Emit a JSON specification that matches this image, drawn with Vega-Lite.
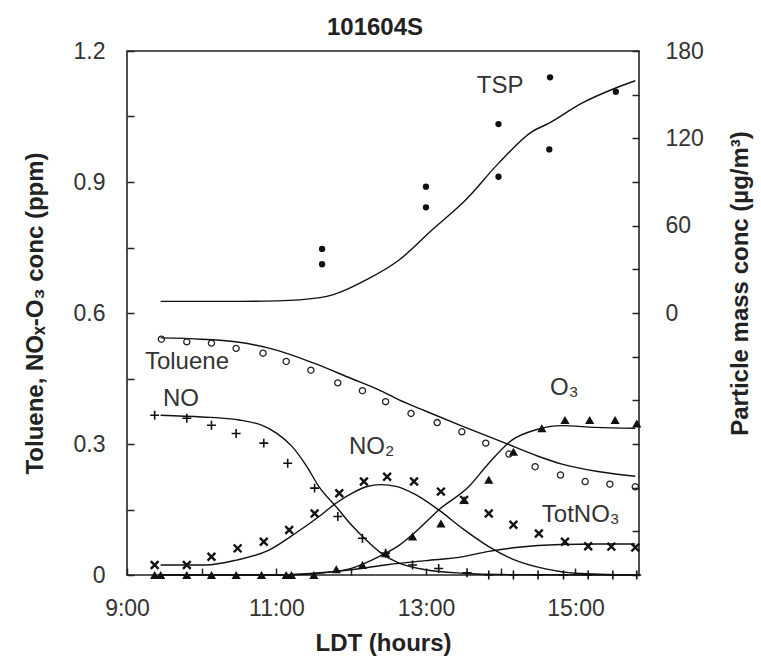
{
  "$schema": "https://vega.github.io/schema/vega-lite/v6.json",
  "width": 512,
  "height": 524,
  "autosize": {"type": "none"},
  "padding": {"left": 127, "top": 51, "right": 122, "bottom": 86},
  "background": "white",
  "title": {"text": "101604S", "fontSize": 24, "fontWeight": "bold", "font": "Liberation Sans", "color": "#222", "baseline": "bottom", "offset": 16, "frame": "group", "anchor": "middle", "dx": -8, "dy": 40},
  "config": {
    "font": "Liberation Sans, DejaVu Sans",
    "view": {"stroke": "#222", "strokeWidth": 1.6},
    "axis": {"domain": false, "grid": false, "tickColor": "#222", "tickWidth": 1.5, "tickSize": -7, "labelFont": "Liberation Sans", "labelFontSize": 23, "labelColor": "#333", "titleFont": "Liberation Sans, DejaVu Sans", "titleFontSize": 24, "titleFontWeight": "bold", "titleColor": "#222", "labelOverlap": false, "labelFlush": false}
  },
  "datasets": {
    "model": [
      {"s":"Toluene","h":9.45,"v":0.543},{"s":"Toluene","h":10.0,"v":0.540},{"s":"Toluene","h":10.5,"v":0.533},{"s":"Toluene","h":11.0,"v":0.515},{"s":"Toluene","h":11.5,"v":0.485},{"s":"Toluene","h":12.0,"v":0.450},{"s":"Toluene","h":12.37,"v":0.424},{"s":"Toluene","h":12.64,"v":0.401},{"s":"Toluene","h":13.0,"v":0.375},{"s":"Toluene","h":13.5,"v":0.340},{"s":"Toluene","h":14.06,"v":0.302},{"s":"Toluene","h":14.5,"v":0.272},{"s":"Toluene","h":14.82,"v":0.254},{"s":"Toluene","h":15.3,"v":0.237},{"s":"Toluene","h":15.8,"v":0.226},
      {"s":"NO","h":9.45,"v":0.366},{"s":"NO","h":10.0,"v":0.362},{"s":"NO","h":10.5,"v":0.355},{"s":"NO","h":10.8,"v":0.343},{"s":"NO","h":11.0,"v":0.325},{"s":"NO","h":11.21,"v":0.294},{"s":"NO","h":11.4,"v":0.250},{"s":"NO","h":11.57,"v":0.202},{"s":"NO","h":11.8,"v":0.156},{"s":"NO","h":12.0,"v":0.115},{"s":"NO","h":12.2,"v":0.080},{"s":"NO","h":12.4,"v":0.050},{"s":"NO","h":12.64,"v":0.027},{"s":"NO","h":13.0,"v":0.012},{"s":"NO","h":13.5,"v":0.004},{"s":"NO","h":14.0,"v":0.001},{"s":"NO","h":15.8,"v":0.0},
      {"s":"NO2","h":9.45,"v":0.023},{"s":"NO2","h":10.05,"v":0.023},{"s":"NO2","h":10.46,"v":0.034},{"s":"NO2","h":10.9,"v":0.057},{"s":"NO2","h":11.25,"v":0.095},{"s":"NO2","h":11.57,"v":0.134},{"s":"NO2","h":11.8,"v":0.165},{"s":"NO2","h":12.02,"v":0.188},{"s":"NO2","h":12.2,"v":0.202},{"s":"NO2","h":12.4,"v":0.207},{"s":"NO2","h":12.6,"v":0.203},{"s":"NO2","h":12.85,"v":0.185},{"s":"NO2","h":13.17,"v":0.149},{"s":"NO2","h":13.5,"v":0.105},{"s":"NO2","h":13.84,"v":0.065},{"s":"NO2","h":14.15,"v":0.037},{"s":"NO2","h":14.6,"v":0.014},{"s":"NO2","h":15.0,"v":0.004},{"s":"NO2","h":15.8,"v":0.0},
      {"s":"O3","h":9.45,"v":0.0},{"s":"O3","h":11.0,"v":0.0},{"s":"O3","h":11.5,"v":0.003},{"s":"O3","h":12.0,"v":0.015},{"s":"O3","h":12.37,"v":0.042},{"s":"O3","h":12.64,"v":0.068},{"s":"O3","h":12.9,"v":0.105},{"s":"O3","h":13.17,"v":0.149},{"s":"O3","h":13.57,"v":0.202},{"s":"O3","h":13.84,"v":0.256},{"s":"O3","h":14.15,"v":0.309},{"s":"O3","h":14.46,"v":0.332},{"s":"O3","h":14.82,"v":0.342},{"s":"O3","h":15.26,"v":0.338},{"s":"O3","h":15.8,"v":0.336},
      {"s":"TotNO3","h":9.45,"v":0.0},{"s":"TotNO3","h":11.0,"v":0.0},{"s":"TotNO3","h":11.5,"v":0.004},{"s":"TotNO3","h":12.0,"v":0.012},{"s":"TotNO3","h":12.5,"v":0.024},{"s":"TotNO3","h":13.0,"v":0.033},{"s":"TotNO3","h":13.5,"v":0.042},{"s":"TotNO3","h":13.8,"v":0.053},{"s":"TotNO3","h":14.2,"v":0.063},{"s":"TotNO3","h":14.8,"v":0.070},{"s":"TotNO3","h":15.3,"v":0.071},{"s":"TotNO3","h":15.8,"v":0.071}
    ],
    "obs": [
      {"s":"Toluene","h":9.46,"v":0.540},{"s":"Toluene","h":9.80,"v":0.534},{"s":"Toluene","h":10.13,"v":0.531},{"s":"Toluene","h":10.46,"v":0.519},{"s":"Toluene","h":10.82,"v":0.508},{"s":"Toluene","h":11.13,"v":0.489},{"s":"Toluene","h":11.46,"v":0.469},{"s":"Toluene","h":11.82,"v":0.440},{"s":"Toluene","h":12.15,"v":0.422},{"s":"Toluene","h":12.46,"v":0.397},{"s":"Toluene","h":12.80,"v":0.370},{"s":"Toluene","h":13.15,"v":0.349},{"s":"Toluene","h":13.48,"v":0.328},{"s":"Toluene","h":13.80,"v":0.302},{"s":"Toluene","h":14.11,"v":0.277},{"s":"Toluene","h":14.46,"v":0.248},{"s":"Toluene","h":14.80,"v":0.229},{"s":"Toluene","h":15.13,"v":0.214},{"s":"Toluene","h":15.46,"v":0.208},{"s":"Toluene","h":15.80,"v":0.202},
      {"s":"NO","h":9.37,"v":0.366},{"s":"NO","h":9.80,"v":0.359},{"s":"NO","h":10.13,"v":0.343},{"s":"NO","h":10.46,"v":0.324},{"s":"NO","h":10.83,"v":0.302},{"s":"NO","h":11.15,"v":0.256},{"s":"NO","h":11.51,"v":0.199},{"s":"NO","h":11.82,"v":0.134},{"s":"NO","h":12.15,"v":0.084},{"s":"NO","h":12.46,"v":0.050},{"s":"NO","h":12.82,"v":0.023},{"s":"NO","h":13.17,"v":0.015},{"s":"NO","h":13.55,"v":0.005},{"s":"NO","h":13.84,"v":0.0},{"s":"NO","h":14.17,"v":0.0},{"s":"NO","h":14.5,"v":0.0},{"s":"NO","h":14.84,"v":0.0},{"s":"NO","h":15.17,"v":0.0},{"s":"NO","h":15.5,"v":0.0},{"s":"NO","h":15.82,"v":0.0},
      {"s":"NO2","h":9.37,"v":0.023},{"s":"NO2","h":9.80,"v":0.023},{"s":"NO2","h":10.13,"v":0.042},{"s":"NO2","h":10.48,"v":0.061},{"s":"NO2","h":10.83,"v":0.076},{"s":"NO2","h":11.17,"v":0.103},{"s":"NO2","h":11.51,"v":0.141},{"s":"NO2","h":11.84,"v":0.187},{"s":"NO2","h":12.17,"v":0.214},{"s":"NO2","h":12.48,"v":0.225},{"s":"NO2","h":12.84,"v":0.214},{"s":"NO2","h":13.20,"v":0.191},{"s":"NO2","h":13.51,"v":0.172},{"s":"NO2","h":13.84,"v":0.141},{"s":"NO2","h":14.17,"v":0.115},{"s":"NO2","h":14.51,"v":0.095},{"s":"NO2","h":14.86,"v":0.076},{"s":"NO2","h":15.17,"v":0.066},{"s":"NO2","h":15.48,"v":0.065},{"s":"NO2","h":15.80,"v":0.063},
      {"s":"O3","h":9.37,"v":0.0},{"s":"O3","h":9.45,"v":0.0},{"s":"O3","h":9.80,"v":0.0},{"s":"O3","h":10.13,"v":0.0},{"s":"O3","h":10.46,"v":0.0},{"s":"O3","h":10.80,"v":0.0},{"s":"O3","h":11.13,"v":0.0},{"s":"O3","h":11.2,"v":0.0},{"s":"O3","h":11.5,"v":0.0},{"s":"O3","h":11.8,"v":0.013},{"s":"O3","h":12.15,"v":0.023},{"s":"O3","h":12.46,"v":0.050},{"s":"O3","h":12.82,"v":0.088},{"s":"O3","h":13.2,"v":0.118},{"s":"O3","h":13.51,"v":0.172},{"s":"O3","h":13.84,"v":0.218},{"s":"O3","h":14.17,"v":0.282},{"s":"O3","h":14.55,"v":0.336},{"s":"O3","h":14.86,"v":0.355},{"s":"O3","h":15.19,"v":0.355},{"s":"O3","h":15.53,"v":0.355},{"s":"O3","h":15.82,"v":0.347}
    ],
    "labels": [
      {"t":"TSP","h":13.68,"v":1.12},
      {"t":"Toluene","h":9.24,"v":0.488},
      {"t":"NO","h":9.48,"v":0.403},
      {"t":"NO₂","h":11.97,"v":0.293},
      {"t":"O₃","h":14.66,"v":0.428},
      {"t":"TotNO₃","h":14.55,"v":0.137}
    ],
    "tspModel": [
      {"h":9.45,"tsp":8},{"h":10.5,"tsp":8},{"h":11.0,"tsp":8.3},{"h":11.3,"tsp":9},{"h":11.75,"tsp":12.4},{"h":12.2,"tsp":22.7},{"h":12.64,"tsp":36.4},{"h":13.08,"tsp":57},{"h":13.53,"tsp":77.6},{"h":13.97,"tsp":102.8},{"h":14.42,"tsp":124.6},{"h":14.64,"tsp":130.3},{"h":15.08,"tsp":144},{"h":15.53,"tsp":154.4},{"h":15.8,"tsp":159.6}
    ],
    "tspObs": [
      {"h":11.61,"tsp":44},{"h":11.61,"tsp":33.5},{"h":13.0,"tsp":86.8},{"h":13.0,"tsp":72.6},{"h":13.97,"tsp":129.8},{"h":13.97,"tsp":93.6},{"h":14.66,"tsp":161.9},{"h":14.65,"tsp":112.4},{"h":15.54,"tsp":152}
    ]
  },
  "encoding": {
    "x": {"field": "h", "type": "quantitative", "scale": {"domain": [9, 15.85], "nice": false, "zero": false},
          "axis": {"values": [9, 10, 11, 12, 13, 14, 15], "labelExpr": "datum.value % 2 == 1 ? datum.value + ':00' : ''", "labelPadding": 29, "title": "LDT (hours)", "titleX": 256, "titleY": 75, "titleBaseline": "alphabetic", "titleAnchor": null}}
  },
  "layer": [
    {
      "encoding": {
        "y": {"field": "v", "type": "quantitative", "scale": {"domain": [0, 1.2], "nice": false},
              "axis": {"orient": "left", "values": [0, 0.15, 0.3, 0.45, 0.6, 0.75, 0.9, 1.05, 1.2], "labelExpr": "round(datum.value*100) % 30 == 0 ? format(datum.value, '~g') : ''", "labelPadding": 29, "labelBaseline": "middle", "title": "Toluene, NOₓ-O₃ conc (ppm)", "titleAngle": 270, "titleX": -92, "titleY": 262, "titleAlign": "center", "titleBaseline": "middle"}}
      },
      "layer": [
        {"data": {"name": "model"}, "mark": {"type": "line", "color": "#111", "strokeWidth": 1.4, "interpolate": "monotone"}, "encoding": {"detail": {"field": "s"}}},
        {"data": {"name": "obs"}, "transform": [{"filter": "datum.s == 'Toluene'"}], "mark": {"type": "point", "shape": "circle", "filled": false, "size": 38, "color": "#222", "strokeWidth": 1.3, "opacity": 1}},
        {"data": {"name": "obs"}, "transform": [{"filter": "datum.s == 'NO'"}], "mark": {"type": "point", "shape": "M-1,0L1,0M0,-1L0,1", "filled": false, "size": 80, "color": "#111", "strokeWidth": 1.6, "opacity": 1}},
        {"data": {"name": "obs"}, "transform": [{"filter": "datum.s == 'NO2'"}], "mark": {"type": "point", "shape": "M-1,-1L1,1M-1,1L1,-1", "filled": false, "size": 60, "color": "#111", "strokeWidth": 2.4, "opacity": 1}},
        {"data": {"name": "obs"}, "transform": [{"filter": "datum.s == 'O3'"}], "mark": {"type": "point", "shape": "triangle-up", "filled": true, "size": 85, "color": "#111", "opacity": 1}},
        {"data": {"name": "labels"}, "mark": {"type": "text", "align": "left", "baseline": "middle", "fontSize": 24, "color": "#333", "font": "Liberation Sans, DejaVu Sans"}, "encoding": {"text": {"field": "t"}}}
      ]
    },
    {
      "encoding": {
        "y": {"field": "tsp", "type": "quantitative", "scale": {"domain": [-180, 180], "nice": false},
              "axis": {"orient": "right", "values": [-180, -150, -120, -90, -60, -30, 0, 30, 60, 90, 120, 150, 180], "labelExpr": "datum.value >= 0 && datum.value % 60 == 0 ? datum.label : ''", "labelPadding": 33, "labelBaseline": "middle", "title": "Particle mass conc (µg/m³)", "titleAngle": 270, "titleX": 101, "titleY": 232, "titleAlign": "center", "titleBaseline": "middle"}}
      },
      "layer": [
        {"data": {"name": "tspModel"}, "mark": {"type": "line", "color": "#111", "strokeWidth": 1.4, "interpolate": "monotone"}},
        {"data": {"name": "tspObs"}, "mark": {"type": "point", "shape": "circle", "filled": true, "size": 40, "color": "#111", "opacity": 1}}
      ]
    }
  ],
  "resolve": {"scale": {"y": "independent"}}
}
